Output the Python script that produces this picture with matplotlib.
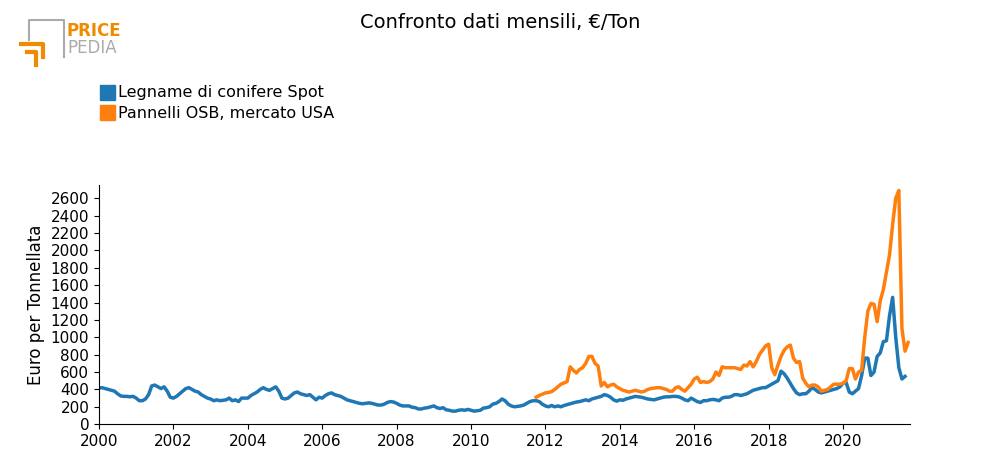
import matplotlib
matplotlib.use("Agg")
import matplotlib.pyplot as plt
from matplotlib.patches import Rectangle
import numpy as np

blue_start = 2000.0
blue_vals = [
 415,420,410,400,390,380,350,325,320,320,315,320,
 300,270,270,290,340,440,450,430,410,430,380,310,
 300,320,350,380,410,420,400,380,370,340,320,300,
 290,270,280,270,275,280,300,270,280,260,300,300,
 300,330,350,370,400,420,400,390,410,430,380,300,
 290,300,330,360,370,350,340,330,340,310,280,310,
 300,330,350,360,340,330,320,300,280,270,260,250,
 240,235,240,245,240,230,220,220,230,250,260,255,
 240,220,210,210,210,195,190,175,175,185,190,200,
 210,190,180,190,165,160,150,150,160,165,160,170,
 160,150,155,160,185,190,200,230,240,260,290,270,
 230,210,200,205,210,220,240,260,270,270,260,230,
 210,200,215,200,210,200,215,225,235,245,255,260,
 270,280,270,290,300,310,320,340,330,310,280,265,
 280,275,290,300,310,320,315,310,300,290,285,280,
 290,300,310,315,315,320,320,315,300,280,270,300,
 280,260,250,270,270,280,285,280,270,300,310,310,
 320,340,340,330,340,350,370,390,400,410,420,420,
 440,460,480,500,610,580,530,470,410,360,340,350,
 350,380,420,400,370,360,370,380,390,400,410,430,
 470,480,370,350,380,410,560,760,760,560,600,780,
 820,950,960,1250,1460,1000,650,520,550]
orange_start = 2011 + 9/12
orange_vals = [
 310,330,345,
 360,365,375,400,430,460,475,490,660,620,590,630,
 650,700,780,780,700,670,440,480,430,450,460,430,
 410,390,380,370,380,390,380,370,380,400,410,415,
 420,420,410,400,380,380,420,430,400,380,420,460,
 520,540,480,490,480,490,520,600,560,660,650,650,
 650,650,640,630,680,670,720,660,720,800,850,900,
 920,650,570,680,780,850,890,910,760,710,720,530,
 470,430,450,450,430,380,390,400,430,460,460,460,
 470,500,640,640,520,600,620,1000,1300,1390,1380,1180,
 1420,1550,1750,1950,2300,2600,2690,1100,840,940]
yticks = list(range(0, 2700, 200))
xticks = list(range(2000, 2021, 2))

bx = blue_start + np.arange(len(blue_vals))/12
ox = orange_start + np.arange(len(orange_vals))/12

fig = plt.figure(figsize=(10, 4.75), dpi=100)
ax = fig.add_axes([0.099, 0.107, 0.811, 0.503])
ax.plot(bx, blue_vals, color="#1f77b4", lw=2.5)
ax.plot(ox, orange_vals, color="#ff7f0e", lw=2.5)
ax.set_xlim(2000, 2021.8)
ax.set_ylim(0, 2750)
ax.set_yticks(yticks)
ax.set_xticks(xticks)
ax.set_xticklabels([str(x) for x in xticks])
ax.spines["top"].set_visible(False)
ax.spines["right"].set_visible(False)
ax.tick_params(labelsize=11)
ax.set_ylabel("Euro per Tonnellata", fontsize=12)

fig.text(0.5, 0.953, "Confronto dati mensili, €/Ton", ha="center", va="center", fontsize=14)
# legend
for i, (c, lab) in enumerate([("#1f77b4", "Legname di conifere Spot"), ("#ff7f0e", "Pannelli OSB, mercato USA")]):
    y = 475 - (93 + i*20)
    fig.patches.append(Rectangle((100/1000, (y-7)/475), 15/1000, 15/475, transform=fig.transFigure, color=c))
    fig.text(118/1000, y/475, lab, va="center", fontsize=11.5)
# logo
fig.add_artist(plt.Line2D([29/1000, 29/1000, 64/1000, 64/1000], [1-40/475, 1-20/475, 1-20/475, 1-57/475], color="#aaaaaa", lw=1.5, transform=fig.transFigure))
fig.add_artist(plt.Line2D([21/1000, 43/1000, 43/1000], [1-44/475, 1-44/475, 1-57/475], color="#f08a00", lw=3, transform=fig.transFigure))
fig.add_artist(plt.Line2D([27/1000, 36/1000, 36/1000], [1-52/475, 1-52/475, 1-65/475], color="#f08a00", lw=3, transform=fig.transFigure))
fig.text(67/1000, 1-31/475, "PRICE", color="#f08a00", fontsize=12, fontweight="bold", va="center")
fig.text(67/1000, 1-48/475, "PEDIA", color="#aaaaaa", fontsize=12, va="center")
fig.savefig("out.png")
